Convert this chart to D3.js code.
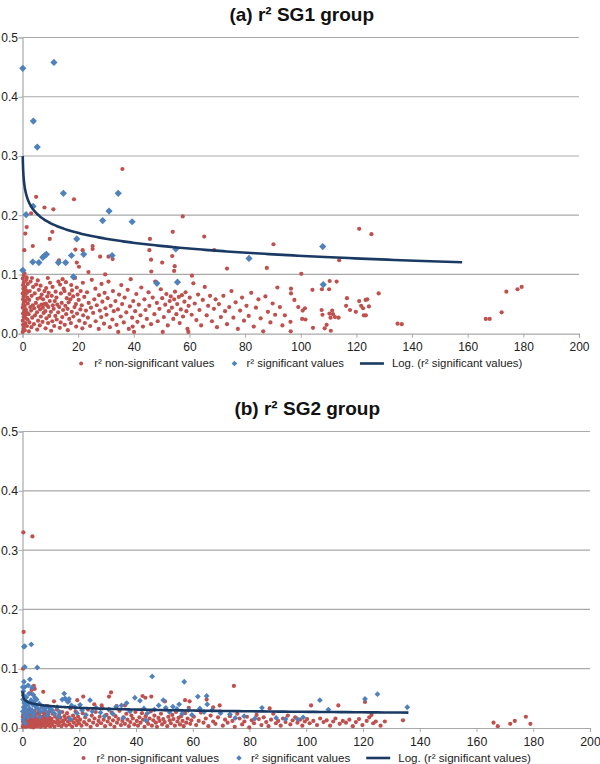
<!DOCTYPE html>
<html><head><meta charset="utf-8">
<script src="https://cdn.jsdelivr.net/npm/d3@7"></script>
<style>body{margin:0;background:#fff}svg{display:block;font-family:"Liberation Sans",Arial,sans-serif}</style>
</head><body><svg id="c" width="600" height="764"></svg>
<script>
const titles = ["(a) r\u00B2 SG1 group", "(b) r\u00B2 SG2 group"];
const legendLabels = ["r\u00B2 non-significant values", "r\u00B2 significant values", "Log. (r\u00B2 significant values)"];
const xTicks = [0,20,40,60,80,100,120,140,160,180,200];
const yTicks = [0,0.1,0.2,0.3,0.4,0.5];
// log trend: y = c0 + c1*ln(x) over [from,to]
const trendCoefA = [0.242, -0.0240];
const trendRangeA = [0.09, 158];
const trendCoefB = [0.0466, -0.0042];
const trendRangeB = [0.025, 136];

const redA = [
[0.1,0.003],[0.3,0.008],[0.2,0.015],[0.5,0.012],[0.1,0.022],[0.4,0.028],[0.2,0.034],[0.6,0.038],[0.1,0.044],[0.3,0.049],[0.5,0.053],[0.2,0.058],[0.4,0.063],[0.1,0.068],[0.6,0.071],[0.3,0.076],[0.2,0.082],[0.5,0.087],[0.1,0.093],[0.4,0.098],[0.8,0.006],[1.0,0.018],[0.9,0.031],[1.2,0.041],[0.8,0.047],[1.1,0.056],[0.9,0.066],[1.3,0.073],[1.0,0.079],[1.4,0.091],[1.6,0.013],[1.8,0.024],[1.5,0.036],[1.9,0.051],[1.7,0.061],[1.6,0.069],[1.9,0.084],[1.5,0.095],[0.7,0.102],[1.2,0.026],
[2.3,0.004],[2.5,0.019],[2.2,0.033],[2.8,0.045],[2.4,0.057],[2.6,0.072],[2.9,0.088],[3.2,0.011],[3.5,0.027],[3.1,0.039],[3.7,0.048],[3.3,0.064],[3.8,0.079],[3.4,0.094],[4.1,0.016],[4.5,0.031],[4.2,0.043],[4.8,0.052],[4.4,0.068],[4.9,0.083],[5.3,0.007],[5.6,0.022],[5.2,0.036],[5.8,0.046],[5.4,0.059],[5.9,0.074],[5.5,0.09],[6.2,0.014],[6.6,0.029],[6.3,0.041],[6.8,0.049],[6.4,0.061],[6.9,0.066],[6.5,0.081],[7.2,0.02],[7.6,0.035],[7.3,0.044],[7.8,0.05],[7.4,0.058],[7.9,0.072],[8.3,0.009],[8.6,0.026],[8.2,0.038],[8.8,0.048],[8.4,0.051],[8.9,0.063],[8.5,0.077],[9.2,0.018],[9.6,0.03],[9.3,0.045],[9.8,0.055],[9.4,0.069],[9.9,0.086],[9.1,0.094],
[10.3,0.005],[10.7,0.021],[10.2,0.037],[10.9,0.048],[10.5,0.064],[10.8,0.079],[11.4,0.013],[11.8,0.03],[11.2,0.042],[11.6,0.055],[11.9,0.071],[12.3,0.024],[12.8,0.036],[12.5,0.049],[12.2,0.061],[12.9,0.088],[13.4,0.01],[13.7,0.019],[13.2,0.045],[13.8,0.068],[13.5,0.083],[14.3,0.028],[14.6,0.04],[14.1,0.052],[14.8,0.076],[14.4,0.092],[15.2,0.015],[15.7,0.033],[15.4,0.047],[15.9,0.06],[15.1,0.072],[15.6,0.087],[16.3,0.006],[16.8,0.025],[16.2,0.042],[16.6,0.053],[16.9,0.067],[17.4,0.018],[17.7,0.037],[17.2,0.058],[17.8,0.073],[17.5,0.082],[18.3,0.029],[18.7,0.045],[18.2,0.063],[18.9,0.094],[19.3,0.012],[19.6,0.034],[19.2,0.05],[19.8,0.066],[19.5,0.078],
[20.4,0.022],[20.8,0.041],[20.2,0.057],[20.9,0.072],[21.5,0.009],[21.8,0.031],[21.3,0.048],[21.7,0.086],[22.4,0.018],[22.8,0.039],[22.2,0.062],[23.5,0.027],[23.8,0.052],[23.2,0.07],[24.3,0.013],[24.6,0.044],[24.9,0.091],[25.4,0.035],[25.8,0.058],[26.3,0.021],[26.7,0.048],[26.2,0.076],[27.4,0.008],[27.8,0.039],[27.5,0.065],[28.3,0.028],[28.7,0.054],[28.4,0.084],[29.3,0.017],[29.8,0.043],[29.5,0.069],
[30.2,0.032],[30.6,0.06],[30.9,0.088],[31.4,0.011],[31.7,0.047],[32.3,0.024],[32.8,0.038],[32.5,0.072],[33.4,0.055],[33.8,0.015],[34.3,0.041],[34.7,0.066],[34.4,0.003],[35.3,0.029],[35.8,0.05],[35.5,0.082],[36.4,0.019],[36.7,0.061],[37.3,0.036],[37.8,0.074],[38.2,0.008],[38.6,0.046],[38.9,0.092],[39.4,0.027],[39.8,0.055],[40.1,0.003],[39.6,0.012],
[40.5,0.038],[40.9,0.067],[41.3,0.02],[41.8,0.049],[42.4,0.031],[42.7,0.078],[43.3,0.012],[43.8,0.058],[44.2,0.04],[44.7,0.025],[45.3,0.07],[45.6,0.047],[46.2,0.016],[46.8,0.061],[47.4,0.033],[47.7,0.088],[48.3,0.052],[48.6,0.021],[49.2,0.042],[49.7,0.075],[50.4,0.003],[50.2,0.06],
[50.8,0.028],[51.3,0.049],[51.7,0.067],[52.2,0.014],[52.6,0.038],[52.9,0.055],[53.3,0.063],[53.7,0.044],[54.2,0.025],[54.5,0.058],[54.8,0.071],[55.3,0.033],[55.6,0.05],[56.2,0.062],[56.5,0.018],[56.9,0.041],[57.3,0.065],[57.7,0.029],[58.2,0.054],[58.6,0.07],[58.9,0.038],[59.3,0.008],[59.7,0.047],[60.1,0.061],[59.6,0.003],
[60.8,0.032],[61.4,0.085],[61.9,0.051],[62.5,0.023],[63.1,0.066],[63.6,0.04],[64.2,0.014],[64.8,0.057],[65.5,0.079],[66.2,0.031],[66.7,0.047],[67.4,0.064],[68.1,0.021],[68.8,0.042],[69.4,0.058],[69.9,0.011],
[70.6,0.05],[71.3,0.028],[72.2,0.064],[72.8,0.038],[73.5,0.016],[74.3,0.045],[75.1,0.072],[75.8,0.027],[76.6,0.053],[77.4,0.008],[78.2,0.039],[78.9,0.061],[79.6,0.022],
[80.5,0.047],[81.3,0.03],[82.2,0.069],[83.1,0.012],[83.9,0.044],[84.8,0.058],[85.6,0.026],[86.5,0.004],[87.3,0.063],[88.2,0.037],[89.1,0.019],[89.9,0.051],[90.8,0.032],[91.6,0.078],[92.5,0.045],[93.4,0.014],
[94.3,0.031],[96.5,0.076],[96.5,0.068],[97.7,0.057],[99.1,0.045],[100.7,0.039],[101.5,0.043],[104.2,0.074],[107.6,0.075],[110.2,0.075],[100.5,0.025],[101.7,0.024],[96.3,0.02],[104.4,0.01],[109.3,0.015],[108.6,0.009],[96.4,0.004],[110.8,0.005],[107.5,0.04],[107.8,0.032],
[110.3,0.034],[111.3,0.039],[111.6,0.033],[110.7,0.027],[112.3,0.028],[113.6,0.027],[116.3,0.047],[117.7,0.04],[119.8,0.037],[121.7,0.047],[124.5,0.046],[122.4,0.043],[122.7,0.031],[123.4,0.031],[116.6,0.06],[121,0.055],[123.3,0.057],[123.9,0.058],[128,0.068],
[134.8,0.017],[136.3,0.016],[166.5,0.025],[167.9,0.025],[172.2,0.036],[173.9,0.071],[177.9,0.075],[179.4,0.079],
[110.4,0.089],[112.9,0.088],[100.2,0.101],[113.8,0.124],[121,0.177],[125.4,0.168],
[4.9,0.231],[18.5,0.227],[3.1,0.203],[7.9,0.213],[11.1,0.21],[1.5,0.18],[1.0,0.169],[0.65,0.141],[3.7,0.148],[10.7,0.172],[9.8,0.16],[13.1,0.124],[19.0,0.142],[19.5,0.12],[20.3,0.113],[21.6,0.141],[25.2,0.148],[25.2,0.143],[23.7,0.104],[27.9,0.13],[29.7,0.1],[30.9,0.13],[32.4,0.126],[35.9,0.278],[57.6,0.198],[54.0,0.172],[45.8,0.16],[45.6,0.141],[46.2,0.125],[46.3,0.105],[50.2,0.12],[53.8,0.131],[54.7,0.114],[54.5,0.106],[65.3,0.164],[68.9,0.141],[73.5,0.11],[60.9,0.098],[90.2,0.151],[87.8,0.111]
];

const blueA = [
[0.1,0.448],[11.3,0.458],[3.9,0.359],[5.3,0.315],[14.7,0.237],[34.4,0.237],[1.3,0.201],[3.8,0.215],[0.1,0.107],[3.7,0.121],[5.9,0.12],[7.3,0.129],[8.0,0.132],[8.6,0.134],[12.9,0.12],[15.5,0.12],[17.6,0.132],[19.5,0.16],[22,0.134],[18.3,0.096],[28.8,0.191],[31.1,0.207],[32.2,0.132],[39.4,0.189],[48.3,0.085],[55.1,0.143],[55.7,0.087],[81.4,0.127],[107.9,0.147],[108.1,0.083]
];

const redB = [
[0.3,0.33],[3.5,0.323],[0.4,0.162],[0.2,0.1],[4.0,0.071],[4.3,0.066],[3.2,0.064],[3.0,0.058],[7.3,0.061],[11.1,0.045],[21.4,0.053],[31.2,0.06],[30.5,0.053],[42.3,0.054],[43.3,0.051],[45.4,0.053],[57.3,0.047],[58.9,0.045],[16.3,0.045],[19.3,0.047],[25.3,0.04],[27.9,0.038],[33.2,0.037],[36.1,0.038],[50.2,0.045],[64.9,0.048],[67.2,0.035],[69.5,0.038],[74.5,0.071],[87.1,0.033],[101.7,0.038],[111.3,0.038],[120.7,0.044],
[0.1,0.002],[0.3,0.006],[0.2,0.011],[0.5,0.004],[0.4,0.015],[0.1,0.019],[0.6,0.009],[0.3,0.023],[0.8,0.003],[0.7,0.013],[0.9,0.018],[1.1,0.006],[1.0,0.026],[1.3,0.011],[1.2,0.002],[1.5,0.016],[1.4,0.021],[1.7,0.008],[1.6,0.029],[1.9,0.004],[1.8,0.013],[2.1,0.019],[2.0,0.01],[2.3,0.024],[2.2,0.003],[2.5,0.014],[2.4,0.007],[2.7,0.031],[2.6,0.017],[2.9,0.005],[2.8,0.022],[3.1,0.012],[3.0,0.002],[3.3,0.027],[3.2,0.016],[3.5,0.009],[3.4,0.02],[3.7,0.004],[3.6,0.013],[3.9,0.024],[3.8,0.001],[4.1,0.018],[4.0,0.007],[4.3,0.011],[4.2,0.029],[4.5,0.003],[4.4,0.021],[4.7,0.015],[4.6,0.009],[4.9,0.034],[4.8,0.006],
[5.1,0.012],[5.3,0.025],[5.2,0.003],[5.5,0.017],[5.7,0.008],[5.6,0.031],[5.9,0.014],[6.1,0.005],[6.0,0.021],[6.3,0.011],[6.5,0.027],[6.4,0.002],[6.7,0.016],[6.9,0.008],[6.8,0.035],[7.1,0.019],[7.0,0.004],[7.4,0.013],[7.6,0.024],[7.5,0.007],[7.8,0.017],[8.0,0.002],[7.9,0.029],[8.2,0.011],[8.4,0.02],[8.3,0.006],[8.6,0.015],[8.8,0.037],[8.7,0.009],[9.0,0.023],[9.2,0.004],[9.1,0.014],[9.4,0.018],[9.6,0.008],[9.5,0.028],[9.8,0.012],[9.9,0.003],
[10.2,0.016],[10.4,0.006],[10.6,0.024],[10.9,0.011],[11.3,0.002],[11.5,0.019],[11.8,0.009],[12.1,0.031],[12.3,0.014],[12.6,0.005],[12.9,0.022],[13.2,0.01],[13.4,0.017],[13.7,0.003],[14.0,0.027],[14.3,0.012],[14.5,0.007],[14.8,0.02],[15.1,0.015],[15.4,0.004],[15.7,0.025],[16.0,0.011],[16.3,0.018],[16.6,0.006],[16.9,0.033],[17.2,0.013],[17.5,0.002],[17.8,0.021],[18.1,0.009],[18.4,0.016],[18.7,0.028],[19.0,0.005],[19.3,0.012],[19.6,0.019],[19.9,0.008],
[20.3,0.014],[20.8,0.004],[21.2,0.025],[21.7,0.01],[22.1,0.018],[22.6,0.006],[23.1,0.031],[23.5,0.013],[24.0,0.002],[24.4,0.021],[24.9,0.009],[25.4,0.016],[25.8,0.027],[26.3,0.005],[26.8,0.012],[27.2,0.019],[27.7,0.008],[28.2,0.033],[28.6,0.014],[29.1,0.003],[29.6,0.022],[30.0,0.011],[30.5,0.017],[31.0,0.006],[31.4,0.026],[31.9,0.013],[32.4,0.002],[32.8,0.02],[33.3,0.009],[33.8,0.015],[34.2,0.029],[34.7,0.005],[35.2,0.012],[35.6,0.018],[36.1,0.007],[36.6,0.024],[37.0,0.014],[37.5,0.003],[38.0,0.01],[38.4,0.021],[38.9,0.016],[39.4,0.006],[39.8,0.027],
[40.3,0.012],[40.7,0.004],[41.2,0.018],[41.6,0.009],[42.1,0.025],[42.5,0.014],[43.0,0.002],[43.4,0.02],[43.9,0.011],[44.3,0.007],[44.8,0.016],[45.2,0.028],[45.6,0.004],[46.1,0.013],[46.5,0.021],[47.0,0.009],[47.4,0.002],[47.9,0.017],[48.3,0.012],[48.8,0.024],[49.2,0.006],[49.6,0.015],[50.1,0.01],[50.5,0.031],[51.0,0.003],[51.4,0.019],[51.9,0.013],[52.3,0.008],[52.8,0.022],[53.2,0.015],[53.7,0.004],[54.1,0.027],[54.6,0.011],[55.0,0.017],[55.5,0.006],[55.9,0.02],[56.4,0.012],[56.8,0.003],[57.3,0.025],[57.7,0.009],[58.2,0.016],[58.6,0.034],[59.1,0.007],[59.5,0.013],
[60.4,0.019],[61.2,0.005],[62.1,0.012],[62.9,0.026],[63.8,0.009],[64.6,0.016],[65.5,0.003],[66.3,0.021],[67.2,0.011],[68.0,0.007],[68.9,0.018],[69.7,0.028],[70.6,0.004],[71.4,0.014],[72.3,0.009],[73.1,0.02],[74.0,0.012],[74.8,0.002],[75.7,0.024],[76.5,0.016],[77.4,0.006],[78.2,0.011],[79.1,0.019],[79.9,0.001],[80.8,0.013],[81.6,0.008],[82.5,0.022],[83.3,0.015],[84.2,0.005],[85.0,0.018],[85.9,0.01],[86.7,0.003],[87.6,0.014],[88.4,0.024],[89.3,0.008],[90.1,0.012],[91.0,0.004],[91.8,0.016],[92.7,0.01],[93.5,0.021],[94.4,0.006],[95.2,0.013],[96.1,0.018],[96.9,0.009],[97.8,0.014],[98.6,0.004],[99.5,0.011],
[100.3,0.015],[101.2,0.008],[102.5,0.012],[103.8,0.005],[104.9,0.016],[106.1,0.01],[107.2,0.013],[108.4,0.004],[109.5,0.011],[110.3,0.016],[111.8,0.007],[112.9,0.012],[114.0,0.009],[115.2,0.014],[116.4,0.003],[117.5,0.01],[118.6,0.015],[119.8,0.005],[121.3,0.012],[122.2,0.018],[123.0,0.022],[123.6,0.008],[124.5,0.011],[126.2,0.004],[127.7,0.011],[134.1,0.013],
[166,0.009],[167.5,0.003],[171.9,0.007],[173.5,0.012],[177.4,0.019],[179,0.007]
];

const blueB = [
[0.5,0.137],[0.8,0.138],[3.1,0.141],[0.8,0.103],[5.2,0.102],[45.7,0.087],[57,0.078],[61.8,0.053],[64.9,0.054],[65.1,0.04],[104.8,0.047],[120.7,0.049],[125.1,0.057],[135.6,0.035],[107.8,0.031],[84.4,0.034],[78.1,0.02],[81.9,0.016],[89.4,0.017],[92.7,0.015],[96.9,0.015],[98.9,0.018],
[0.1,0.069],[0.8,0.069],[2.6,0.082],[2.0,0.072],[3.3,0.068],[3.8,0.056],[4.4,0.051],[0.3,0.062],[0.5,0.055],[0.2,0.048],[0.6,0.042],[0.4,0.035],[0.1,0.028],[0.7,0.021],[0.3,0.014],[0.9,0.008],[1.2,0.045],[1.5,0.038],[1.1,0.031],[1.7,0.025],[1.4,0.052],[2.2,0.041],[2.5,0.033],[2.9,0.027],[2.3,0.058],[3.0,0.047],[3.6,0.039],[3.4,0.03],[4.0,0.044],[4.7,0.036],[4.2,0.025],[5.0,0.048],[5.5,0.032],[5.9,0.041],[6.4,0.028],[7.0,0.036],[7.8,0.031],[8.3,0.036],[9.0,0.026],[9.6,0.033],[1.9,0.018],[3.7,0.02],[6.1,0.019],[8.7,0.021],[0.5,0.078],
[10.5,0.03],[11.3,0.024],[12.2,0.035],[13.1,0.027],[14.0,0.048],[14.7,0.058],[15.0,0.05],[15.5,0.047],[16.0,0.044],[16.4,0.049],[17.3,0.038],[18.5,0.035],[19.2,0.025],[20.3,0.039],[21.0,0.03],[22.4,0.022],[23.8,0.047],[24.6,0.028],[26.0,0.034],[27.5,0.026],[28.9,0.02],[12.8,0.019],[16.8,0.015],
[30.4,0.031],[31.8,0.024],[33.0,0.036],[34.9,0.038],[36.7,0.042],[37.9,0.028],[39.6,0.051],[41.4,0.046],[42.8,0.033],[44.0,0.025],[46.5,0.031],[48.0,0.038],[49.6,0.047],[50.5,0.034],[51.8,0.027],[53.0,0.036],[54.4,0.032],[55.2,0.04],[56.3,0.024],[58.4,0.03],[59.7,0.022],[35.5,0.017],[43.5,0.013],
[62.5,0.033],[64.0,0.027],[66.8,0.03],[69.8,0.025],[73.1,0.023],[75.0,0.017]
];

const RED = "#c0504d", BLUE = "#4f81bd", TREND = "#1b3a63", GRID = "#a9a9a9", TXT = "#222";
const svg = d3.select("#c");

const panels = [
  {title: titles[0], red: redA, blue: blueA, coef: trendCoefA, range: trendRangeA,
   left: 22.5, right: 579, top: 37.5, bottom: 333.7, titleY: 21, legendY: 363.5, diamond: 3.6, font: 12, lfont: 11.4},
  {title: titles[1], red: redB, blue: blueB, coef: trendCoefB, range: trendRangeB,
   left: 22.5, right: 590, top: 431.5, bottom: 728, titleY: 415, legendY: 758, diamond: 2.9, font: 12.3, lfont: 11.6}
];

const diamondPath = r => `M0,${-r}L${r},0L0,${r}L${-r},0Z`;

panels.forEach(p => {
  const g = svg.append("g");
  const x = d3.scaleLinear().domain([0,200]).range([p.left, p.right]);
  const y = d3.scaleLinear().domain([0,0.5]).range([p.bottom, p.top]);

  g.append("text").attr("x", (p.left + p.right)/2 + 1).attr("y", p.titleY)
    .attr("text-anchor","middle").attr("font-weight","bold").attr("font-size", 19).attr("fill","#111")
    .text(p.title);

  g.append("g").selectAll("line").data(yTicks.filter(t => t > 0)).join("line")
    .attr("x1", p.left).attr("x2", p.right).attr("y1", d => y(d)).attr("y2", d => y(d))
    .attr("stroke", GRID).attr("stroke-width", 1.2);

  const xAxis = d3.axisBottom(x).tickValues(xTicks).tickSize(4).tickFormat(d3.format("d"));
  const ax = g.append("g").attr("transform", `translate(0,${p.bottom})`).call(xAxis);
  ax.select(".domain").attr("stroke", GRID).attr("stroke-width",1.2);
  ax.selectAll(".tick line").attr("stroke", GRID);
  ax.selectAll("text").attr("font-size", p.font).attr("fill", TXT).attr("font-family","Liberation Sans, Arial, sans-serif").attr("dy","0.9em");

  const yAxis = d3.axisLeft(y).tickValues(yTicks).tickSize(4).tickFormat(d3.format(".1f"));
  const ay = g.append("g").attr("transform", `translate(${p.left},0)`).call(yAxis);
  ay.select(".domain").attr("stroke", GRID).attr("stroke-width",1.2);
  ay.selectAll(".tick line").attr("stroke", GRID);
  ay.selectAll("text").attr("font-size", p.font).attr("fill", TXT).attr("font-family","Liberation Sans, Arial, sans-serif").attr("x", -4.5);

  g.append("g").selectAll("circle").data(p.red).join("circle")
    .attr("cx", d => x(d[0])).attr("cy", d => y(d[1])).attr("r", 2.1).attr("fill", RED);
  g.append("g").selectAll("path").data(p.blue).join("path")
    .attr("transform", d => `translate(${x(d[0])},${y(d[1])})`).attr("d", diamondPath(p.diamond)).attr("fill", BLUE);

  const xs = d3.range(0, 401).map(i => p.range[0] * Math.pow(p.range[1]/p.range[0], i/400));
  const line = d3.line().x(d => x(d)).y(d => y(p.coef[0] + p.coef[1]*Math.log(d)));
  g.append("path").datum(xs).attr("d", line).attr("fill","none").attr("stroke", TREND).attr("stroke-width", 2.6);

  const lg = g.append("g").attr("font-size", p.lfont).attr("fill", TXT);
  const t1 = lg.append("text").attr("y", p.legendY).attr("dy","0.35em").text(legendLabels[0]);
  const t2 = lg.append("text").attr("y", p.legendY).attr("dy","0.35em").text(legendLabels[1]);
  const t3 = lg.append("text").attr("y", p.legendY).attr("dy","0.35em").text(legendLabels[2]);
  const w1 = t1.node().getComputedTextLength(), w2 = t2.node().getComputedTextLength(), w3 = t3.node().getComputedTextLength();
  const total = 13 + w1 + 20 + 12 + w2 + 16 + 24 + 8 + w3;
  let sx = (p.left + p.right)/2 - total/2 + 1;
  lg.append("circle").attr("cx", sx).attr("cy", p.legendY).attr("r", 2).attr("fill", RED);
  t1.attr("x", sx + 13);
  sx += 13 + w1 + 20;
  lg.append("path").attr("transform", `translate(${sx},${p.legendY})`).attr("d", diamondPath(2.8)).attr("fill", BLUE);
  t2.attr("x", sx + 12);
  sx += 12 + w2 + 16;
  lg.append("line").attr("x1", sx).attr("x2", sx + 24).attr("y1", p.legendY).attr("y2", p.legendY).attr("stroke", TREND).attr("stroke-width", 2.6);
  t3.attr("x", sx + 32);
});
</script></body></html>
